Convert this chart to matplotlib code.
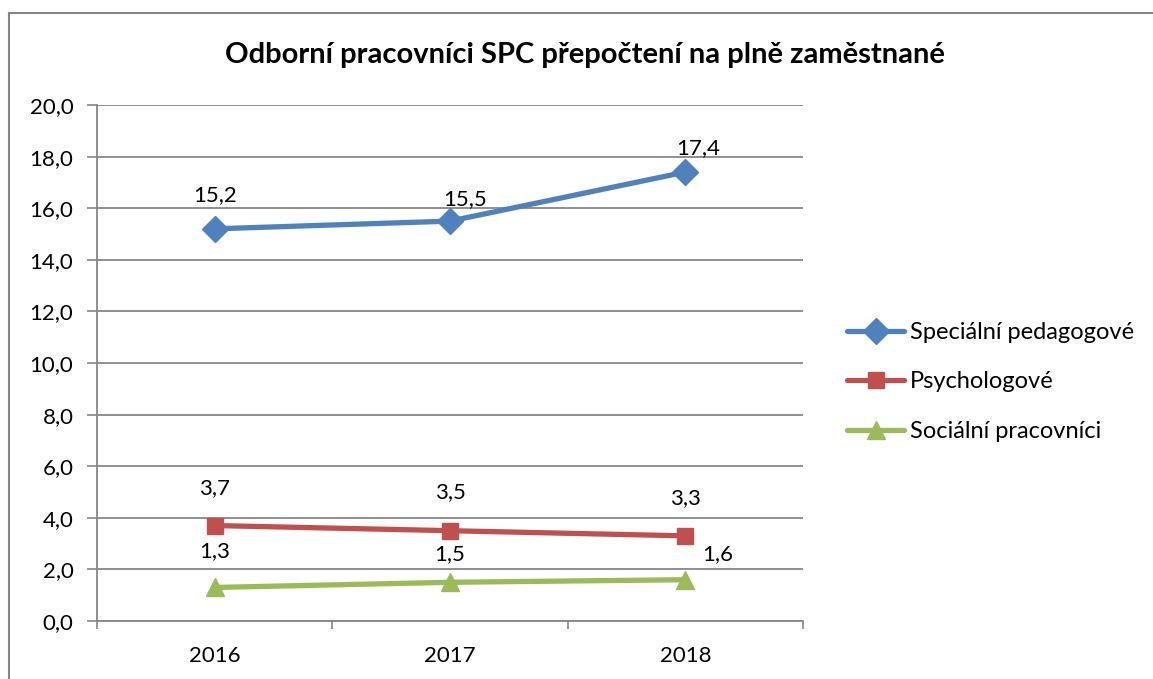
import matplotlib.pyplot as plt
from matplotlib.patches import Rectangle
from matplotlib.ticker import FixedLocator, FuncFormatter

plt.rcParams['font.family'] = ['Lato', 'DejaVu Sans']

years = ["2016", "2017", "2018"]
series_names = ["Speciální pedagogové", "Psychologové", "Sociální pracovníci"]
pedagogove = [15.2, 15.5, 17.4]
psychologove = [3.7, 3.5, 3.3]
socialni = [1.3, 1.5, 1.6]

colors = ["#4F81BD", "#C0504D", "#9BBB59"]
markers = ["D", "s", "^"]
msizes = [13.5, 11.5, 13.5]
# label offsets in pixels, per series / per point
label_offsets = [
    [(0, 34), (15, 22), (13, 24)],
    [(0, 37), (0, 39), (0, 38)],
    [(0, 36), (0, 28), (32, 26)],
]

fig = plt.figure(figsize=(11.53, 6.79), dpi=100)
ax = fig.add_axes([97 / 1153, 1 - 621 / 679, 706 / 1153, 516 / 679])

# outer chart border
fig.patches.append(Rectangle((9 / 1153, -0.05), 1.2, 1 - 13 / 679 + 0.05,
                             transform=fig.transFigure, fill=False,
                             edgecolor="#868686", linewidth=1.5))

x = range(len(years))
for vals, name, c, m, ms, offs in zip([pedagogove, psychologove, socialni],
                                      series_names, colors, markers, msizes,
                                      label_offsets):
    ax.plot(x, vals, color=c, linewidth=3.8, marker=m, markersize=ms,
            label=name, solid_capstyle="round")
    for xi, v, off in zip(x, vals, offs):
        ax.annotate(f"{v:.1f}".replace(".", ","), (xi, v), xytext=off,
                    textcoords="offset pixels", ha="center", va="center",
                    fontsize=16, color="black")

ax.set_xlim(-0.5, 2.5)
ax.set_ylim(0, 20)
ax.set_yticks([i * 2 for i in range(11)])
ax.yaxis.set_major_formatter(FuncFormatter(lambda v, p: f"{v:.1f}".replace(".", ",")))
ax.xaxis.set_major_locator(FixedLocator([-0.5, 0.5, 1.5, 2.5]))
ax.xaxis.set_major_formatter(FuncFormatter(lambda v, p: ""))
ax.xaxis.set_minor_locator(FixedLocator([0, 1, 2]))
ax.xaxis.set_minor_formatter(FuncFormatter(lambda v, p: years[int(round(v))]))
ax.tick_params(axis="x", which="major", length=6, color="#868686", width=1.2, direction="out")
ax.tick_params(axis="x", which="minor", length=0, labelsize=16, pad=18)
ax.tick_params(axis="y", length=7, color="#868686", width=1.2, labelsize=16, pad=10)

ax.grid(axis="y", color="#878787", linewidth=1.3)
ax.set_axisbelow(True)
for s in ["top", "right"]:
    ax.spines[s].set_visible(False)
for s in ["left", "bottom"]:
    ax.spines[s].set_color("#868686")
    ax.spines[s].set_linewidth(1.3)

fig.text(585 / 1153, 1 - 55 / 679,
         "Odborní pracovníci SPC přepočtení na plně zaměstnané",
         ha="center", va="center", fontsize=21, fontweight="bold")

fig.legend(loc="center left", bbox_to_anchor=(826 / 1153, 1 - 382 / 679),
           frameon=False, fontsize=17, handlelength=2.4, handletextpad=0.25,
           labelspacing=1.2)

fig.savefig("out.png", dpi=100)
